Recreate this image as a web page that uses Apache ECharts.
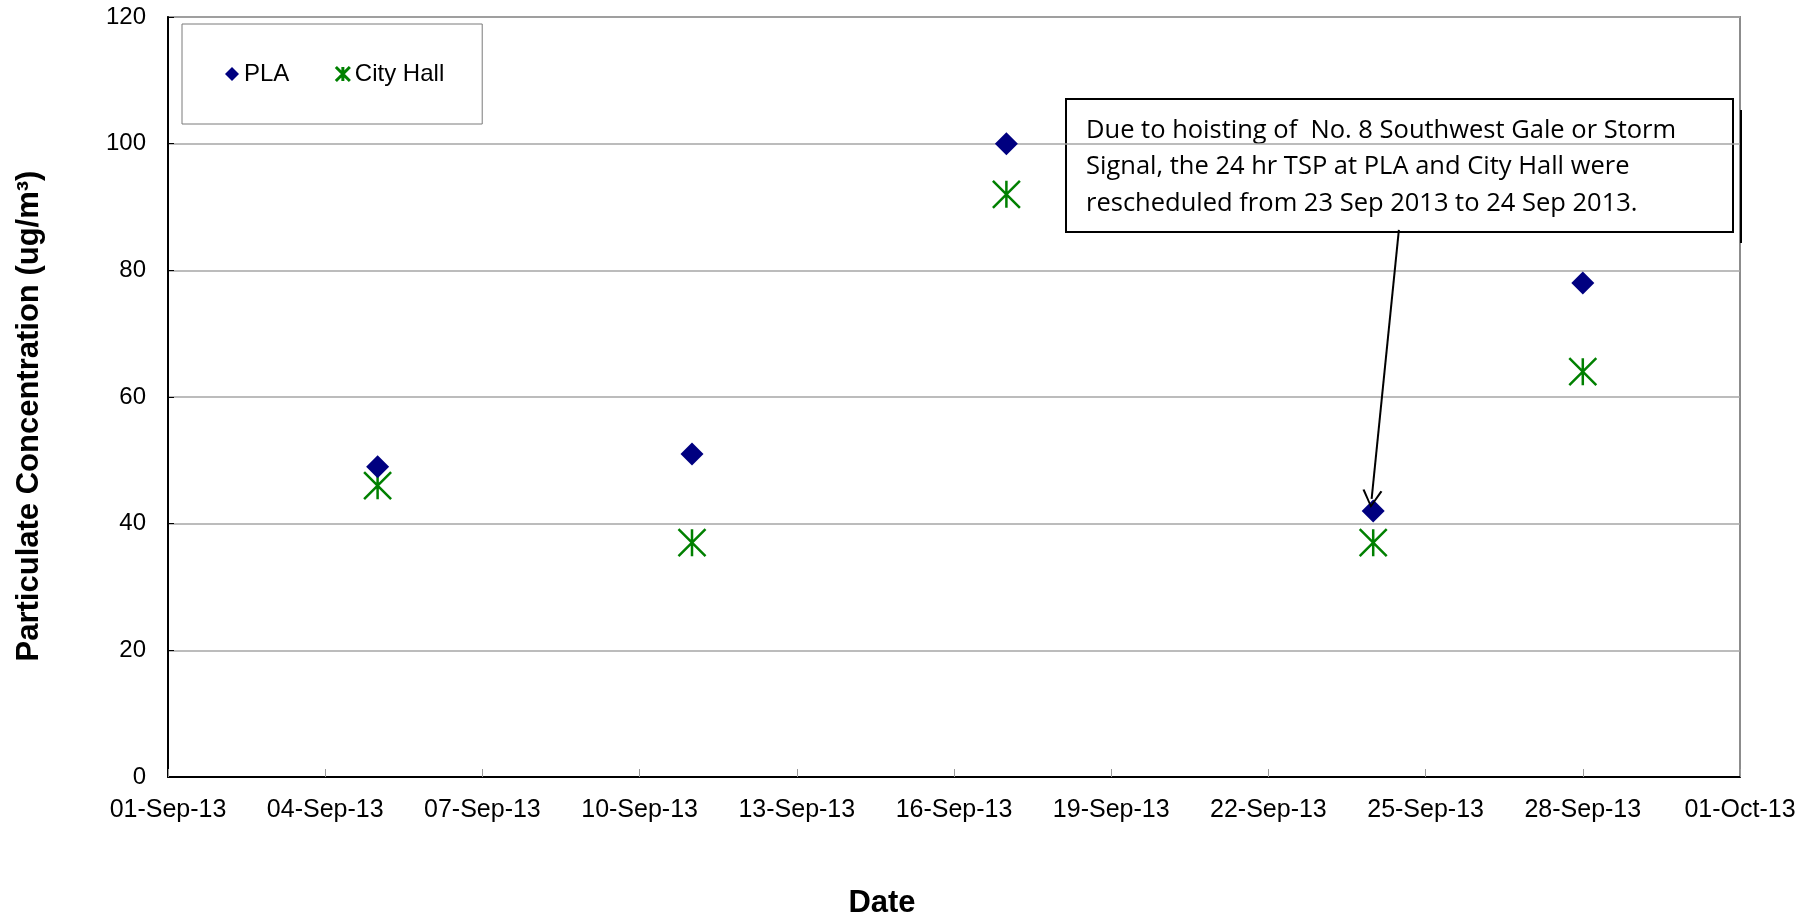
<!DOCTYPE html>
<html>
<head>
<meta charset="utf-8">
<script src="https://cdn.jsdelivr.net/npm/echarts@6/dist/echarts.min.js"></script>
<style>html,body{margin:0;padding:0;background:#fff;}#c{width:1813px;height:924px;}</style>
</head>
<body>
<div id="c"></div>
<script>
// ---- data ----
var startDate = '2013-09-01';
var endDate = '2013-10-01';
var tickStepDays = 3;
var plaDates = ['2013-09-05', '2013-09-11', '2013-09-17', '2013-09-24', '2013-09-28'];
var plaValues = [49, 51, 100, 42, 78];
var cityHallDates = ['2013-09-05', '2013-09-11', '2013-09-17', '2013-09-24', '2013-09-28'];
var cityHallValues = [46, 37, 92, 37, 64];
var yTicks = [0, 20, 40, 60, 80, 100, 120];
var noteText = 'Due to hoisting of  No. 8 Southwest Gale or Storm\nSignal, the 24 hr TSP at PLA and City Hall were\nrescheduled from 23 Sep 2013 to 24 Sep 2013.';
// annotation arrow: from the note box (day offset, value) towards the 24-Sep PLA point
var arrowFrom = [23.49, 86.4];
var arrowTo = [22.97, 43.9];

var MONTHS = ['Jan','Feb','Mar','Apr','May','Jun','Jul','Aug','Sep','Oct','Nov','Dec'];
function toUTC(s){ var p = s.split('-'); return Date.UTC(+p[0], +p[1]-1, +p[2]); }
var t0 = toUTC(startDate);
function dayOff(s){ return (toUTC(s) - t0) / 86400000; }
function fmtDay(d){
  var dt = new Date(t0 + d * 86400000);
  var dd = dt.getUTCDate(); var yy = dt.getUTCFullYear() % 100;
  return (dd < 10 ? '0' : '') + dd + '-' + MONTHS[dt.getUTCMonth()] + '-' + (yy < 10 ? '0' : '') + yy;
}
var plaData = plaDates.map(function(d,i){ return [dayOff(d), plaValues[i]]; });
var chData = cityHallDates.map(function(d,i){ return [dayOff(d), cityHallValues[i]]; });

var asterisk = 'path://M0,0 L20,20 M20,0 L0,20 M10,0 L10,20';
var chevron = 'path://M0,20 L10,0 L20,20 L18,21 L10,4 L2,21 Z';
var FONT = 'Liberation Sans, Arial, sans-serif';

var chart = echarts.init(document.getElementById('c'));
chart.setOption({
  animation: false,
  backgroundColor: '#fff',
  grid: { left: 168, right: 73, top: 17, bottom: 139, show: true, borderColor: '#8c8c8c', borderWidth: 2, backgroundColor: 'transparent' },
  legend: {
    left: 182, top: 24,
    padding: [38, 38, 38, 43],
    borderColor: '#7a7a7a', borderWidth: 1,
    itemGap: 45, itemWidth: 14, itemHeight: 14,
    textStyle: { fontFamily: FONT, fontSize: 24, color: '#000' },
    data: [
      { name: 'PLA', icon: 'diamond', itemStyle: { color: '#000080', opacity: 1 } },
      { name: 'City Hall', icon: asterisk, itemStyle: { color: 'transparent', borderColor: '#008000', borderWidth: 3, opacity: 1 } }
    ]
  },
  xAxis: {
    type: 'value',
    min: 0, max: dayOff(endDate), interval: tickStepDays,
    name: 'Date', nameLocation: 'middle', nameGap: 111,
    nameTextStyle: { fontFamily: FONT, fontSize: 31, fontWeight: 'bold', color: '#000', padding: [0, 144, 0, 0] },
    axisLine: { show: true, lineStyle: { color: '#000', width: 2 } },
    axisTick: { show: true, inside: true, length: 8, lineStyle: { color: '#999', width: 1 } },
    axisLabel: { margin: 21, fontFamily: FONT, fontSize: 25, color: '#000', formatter: function(v){ return fmtDay(v); } },
    splitLine: { show: false }
  },
  yAxis: {
    type: 'value',
    min: yTicks[0], max: yTicks[yTicks.length-1], interval: yTicks[1]-yTicks[0],
    name: 'Particulate Concentration (ug/m³)', nameLocation: 'middle', nameGap: 123,
    nameTextStyle: { fontFamily: FONT, fontSize: 31, fontWeight: 'bold', color: '#000', padding: [0, 38, 0, 0] },
    axisLine: { show: true, lineStyle: { color: '#000', width: 2 } },
    axisTick: { show: true, inside: true, length: 6, lineStyle: { color: '#000', width: 1 } },
    axisLabel: { margin: 22, fontFamily: FONT, fontSize: 24, color: '#000' },
    splitLine: { show: true, lineStyle: { color: '#a6a6a6', width: 1.5 } }
  },
  series: [
    {
      name: 'PLA', type: 'scatter', symbol: 'diamond', symbolSize: 23,
      itemStyle: { color: '#000080', opacity: 1 },
      data: plaData,
      z: 3,
      markLine: {
        silent: true, animation: false,
        symbol: ['none', chevron], symbolSize: [20, 18],
        label: { show: false },
        lineStyle: { color: '#000', width: 2, type: 'solid', opacity: 1 },
        data: [[{ coord: arrowFrom }, { coord: arrowTo }]]
      }
    },
    {
      name: 'City Hall', type: 'scatter', symbol: asterisk, symbolSize: 27,
      itemStyle: { color: 'transparent', borderColor: '#008000', borderWidth: 2.5, opacity: 1 },
      data: chData,
      z: 2
    }
  ],
  graphic: [
    {
      type: 'group', z: 100,
      children: [
        { type: 'line', shape: { x1: 1741, y1: 110, x2: 1741, y2: 243 }, style: { stroke: '#000', lineWidth: 2 } },
        { type: 'rect', shape: { x: 1066, y: 99, width: 667, height: 133 }, style: { fill: '#fff', stroke: '#000', lineWidth: 2 } },
        { type: 'text', x: 1086, y: 112, style: { text: noteText, fontFamily: 'Open Sans, Noto Sans, sans-serif', fontSize: 25.5, lineHeight: 36.7, fill: '#000' } }
      ]
    }
  ]
});
</script>
</body>
</html>
